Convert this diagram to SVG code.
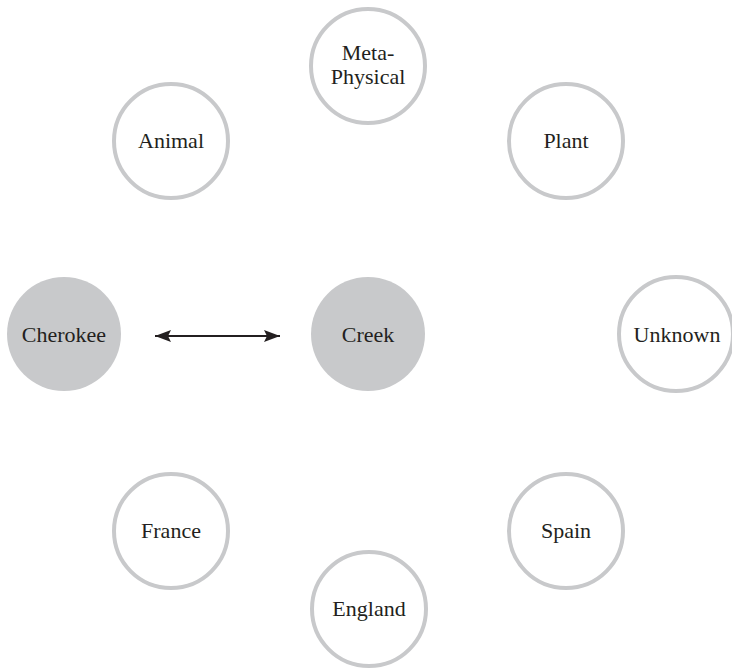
<svg xmlns="http://www.w3.org/2000/svg" width="732" height="671" viewBox="0 0 732 671">
<style>
.ring{fill:#fff;stroke:#c8c9cb;stroke-width:4}
.solid{fill:#c8c9cb;stroke:none}
.t{font-family:"Liberation Serif","DejaVu Serif",serif;font-size:22px;fill:#231f20;text-anchor:middle}
.conn{stroke:#231f20;stroke-width:2;fill:none}
</style>
<defs>
<marker id="ah" viewBox="0 0 16 12" refX="16" refY="6" markerWidth="16" markerHeight="12" markerUnits="userSpaceOnUse" orient="auto-start-reverse">
<path d="M0,0 L16,6 L0,12 L3,6 Z" fill="#231f20"/>
</marker>
</defs>
<rect width="732" height="671" fill="#fff"/>
<g id="connectors">
<line class="conn" x1="155" y1="336" x2="280" y2="336" marker-start="url(#ah)" marker-end="url(#ah)"/>
</g>
<g id="metaphysical"><circle class="ring" cx="368" cy="66" r="57"/><text class="t" x="368" y="60">Meta-</text><text class="t" x="368" y="84">Physical</text></g>
<g id="animal"><circle class="ring" cx="171" cy="141" r="57"/><text class="t" x="171" y="148">Animal</text></g>
<g id="plant"><circle class="ring" cx="566" cy="141" r="57"/><text class="t" x="566" y="148">Plant</text></g>
<g id="cherokee"><circle class="solid" cx="64" cy="334" r="57"/><text class="t" x="64" y="342">Cherokee</text></g>
<g id="creek"><circle class="solid" cx="368" cy="334" r="57"/><text class="t" x="368" y="342">Creek</text></g>
<g id="unknown"><circle class="ring" cx="676" cy="334" r="57"/><text class="t" x="677" y="342">Unknown</text></g>
<g id="france"><circle class="ring" cx="171" cy="531" r="57"/><text class="t" x="171" y="538">France</text></g>
<g id="spain"><circle class="ring" cx="566" cy="531" r="57"/><text class="t" x="566" y="538">Spain</text></g>
<g id="england"><circle class="ring" cx="369" cy="609" r="57"/><text class="t" x="369" y="616">England</text></g>
</svg>
